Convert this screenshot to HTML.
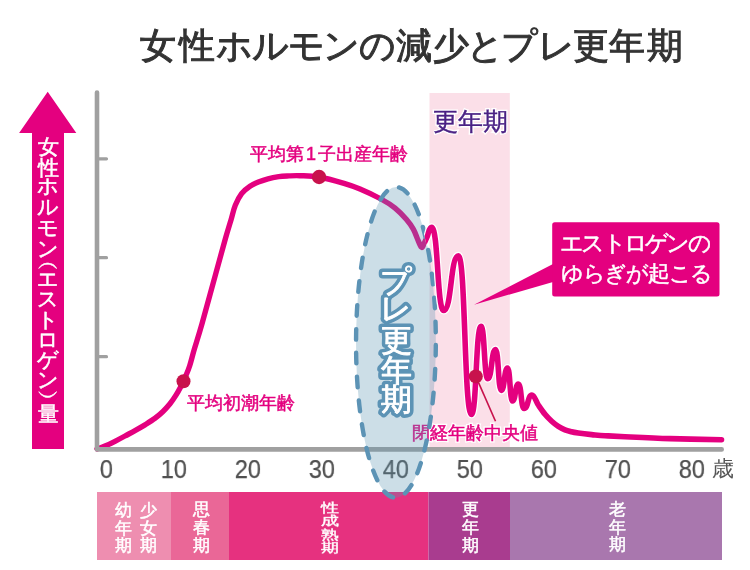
<!DOCTYPE html>
<html><head><meta charset="utf-8">
<style>
html,body{margin:0;padding:0;background:#fff;}
body{width:750px;height:570px;position:relative;overflow:hidden;font-family:"Liberation Sans",sans-serif;}
svg{position:absolute;left:0;top:0;}
.t{position:absolute;white-space:nowrap;line-height:1;will-change:transform;}
.ch{position:absolute;text-align:center;white-space:nowrap;line-height:1;will-change:transform;}
.ttl{top:27.5px;font-size:36px;color:#333;-webkit-text-stroke:1px #333;}
.xl{top:456.5px;font-size:25.5px;color:#505050;-webkit-text-stroke:0.25px #505050;transform:scaleX(0.93);transform-origin:100% 50%;text-align:right;width:60px;}
.lab{font-size:18px;color:#e4007f;-webkit-text-stroke:0.5px #e4007f;}
</style></head><body>
<svg width="750" height="570" viewBox="0 0 750 570">
  <rect x="429.5" y="93" width="80.3" height="356" fill="#fbdfe8"/>
  <rect x="97" y="492" width="74" height="68" fill="#ee8eb0"/>
  <rect x="171" y="492" width="58" height="68" fill="#ea6797"/>
  <rect x="229" y="492" width="199.5" height="68" fill="#e6317f"/>
  <rect x="428.5" y="492" width="81.5" height="68" fill="#a93c8f"/>
  <rect x="510" y="492" width="212" height="68" fill="#a977ae"/>
  <path d="M97.0,448.9 C98.3,448.4 102.0,447.4 105.0,446.1 C108.0,444.8 111.7,443.0 115.0,441.3 C118.3,439.6 121.7,437.8 125.0,436.0 C128.3,434.2 131.7,432.5 135.0,430.6 C138.3,428.8 141.7,426.9 145.0,424.9 C148.3,422.8 152.0,420.5 155.0,418.3 C158.0,416.1 160.5,413.9 163.0,411.5 C165.5,409.1 167.8,406.5 170.0,403.8 C172.2,401.1 174.2,398.1 176.0,395.2 C177.8,392.3 179.4,389.3 181.0,386.2 C182.6,383.1 184.1,379.9 185.5,376.5 C186.9,373.1 188.2,370.4 189.7,365.7 C191.2,361.0 192.5,355.3 194.6,348.3 C196.7,341.3 198.5,336.0 202.0,323.7 C205.5,311.4 211.6,288.7 215.5,274.6 C219.4,260.5 222.7,248.1 225.3,239.0 C227.9,229.9 229.3,225.6 231.0,220.0 C232.7,214.4 233.5,209.7 235.3,205.3 C237.1,200.9 239.2,196.9 241.6,193.7 C244.0,190.5 247.2,188.2 250.0,186.3 C252.8,184.4 255.4,183.2 258.4,182.0 C261.4,180.8 264.6,179.7 268.0,178.8 C271.4,177.9 275.2,177.2 278.7,176.7 C282.2,176.2 285.4,176.1 289.0,175.9 C292.6,175.7 295.0,175.5 300.0,175.7 C305.0,175.9 311.7,175.7 319.0,177.0 C326.3,178.3 337.2,181.4 344.0,183.4 C350.8,185.4 353.8,186.4 360.0,189.0 C366.2,191.6 375.1,195.8 381.0,199.0 C386.9,202.2 390.9,204.7 395.1,208.1 C399.3,211.5 403.3,215.8 406.3,219.3 C409.3,222.8 411.4,225.8 413.3,229.1 C415.2,232.4 416.3,236.2 417.5,239.0 C418.7,241.8 419.6,244.2 420.4,245.6 C421.2,247.0 421.6,247.8 422.3,247.3 C423.0,246.8 423.8,244.4 424.6,242.5 C425.5,240.6 426.7,237.8 427.4,236.1 C428.1,234.4 428.7,233.1 429.0,232.5" fill="none" stroke="#e4007f" stroke-width="5.4" stroke-linecap="round"/>
  <g stroke="#a0a0a0" stroke-linecap="round" fill="none">
    <path d="M97,92.6 V449.4 H721.7" stroke-width="4.6" stroke-linejoin="round"/>
    <path d="M97,158.8 H106.5 M97,257.7 H106.5 M97,356.7 H106.5" stroke-width="3.2"/>
  </g>
  <circle cx="319.1" cy="177" r="7.2" fill="#c8124c"/>
  <circle cx="183.5" cy="381.2" r="7" fill="#c8124c"/>
  <path d="M47.7,91.7 L76.3,133 H64 V449 H32 V133 H19.1 Z" fill="#e4007f"/>
</svg>
<div class="t ttl" style="left:140.35px">女</div>
<div class="t ttl" style="left:178.6px">性</div>
<div class="t ttl" style="left:215.7px">ホ</div>
<div class="t ttl" style="left:251.9px">ル</div>
<div class="t ttl" style="left:288.0px">モ</div>
<div class="t ttl" style="left:323.1px">ン</div>
<div class="t ttl" style="left:359.2px">の</div>
<div class="t ttl" style="left:396.1px">減</div>
<div class="t ttl" style="left:433.1px">少</div>
<div class="t ttl" style="left:466.5px">と</div>
<div class="t ttl" style="left:500.85px">プ</div>
<div class="t ttl" style="left:538.35px">レ</div>
<div class="t ttl" style="left:573.3px">更</div>
<div class="t ttl" style="left:609.3px">年</div>
<div class="t ttl" style="left:647.0px">期</div>
<div class="ch" style="left:33.00px;top:137.40px;width:30px;font-size:20.5px;color:#fff;-webkit-text-stroke:0.5px #fff;">女</div>
<div class="ch" style="left:33.00px;top:157.65px;width:30px;font-size:20.5px;color:#fff;-webkit-text-stroke:0.5px #fff;">性</div>
<div class="ch" style="left:33.00px;top:176.40px;width:30px;font-size:20.5px;color:#fff;-webkit-text-stroke:0.5px #fff;">ホ</div>
<div class="ch" style="left:33.00px;top:197.15px;width:30px;font-size:20.5px;color:#fff;-webkit-text-stroke:0.5px #fff;">ル</div>
<div class="ch" style="left:33.00px;top:218.40px;width:30px;font-size:20.5px;color:#fff;-webkit-text-stroke:0.5px #fff;">モ</div>
<div class="ch" style="left:33.00px;top:238.65px;width:30px;font-size:20.5px;color:#fff;-webkit-text-stroke:0.5px #fff;">ン</div>
<div class="ch" style="left:33.00px;top:251.70px;width:30px;font-size:20.5px;color:#fff;-webkit-text-stroke:0.5px #fff;">︵</div>
<div class="ch" style="left:33.00px;top:268.85px;width:30px;font-size:20.5px;color:#fff;-webkit-text-stroke:0.5px #fff;">エ</div>
<div class="ch" style="left:33.00px;top:289.10px;width:30px;font-size:20.5px;color:#fff;-webkit-text-stroke:0.5px #fff;">ス</div>
<div class="ch" style="left:33.00px;top:309.65px;width:30px;font-size:20.5px;color:#fff;-webkit-text-stroke:0.5px #fff;">ト</div>
<div class="ch" style="left:33.00px;top:329.60px;width:30px;font-size:20.5px;color:#fff;-webkit-text-stroke:0.5px #fff;">ロ</div>
<div class="ch" style="left:33.00px;top:350.35px;width:30px;font-size:20.5px;color:#fff;-webkit-text-stroke:0.5px #fff;">ゲ</div>
<div class="ch" style="left:33.00px;top:369.80px;width:30px;font-size:20.5px;color:#fff;-webkit-text-stroke:0.5px #fff;">ン</div>
<div class="ch" style="left:33.00px;top:387.05px;width:30px;font-size:20.5px;color:#fff;-webkit-text-stroke:0.5px #fff;">︶</div>
<div class="ch" style="left:33.00px;top:404.30px;width:30px;font-size:20.5px;color:#fff;-webkit-text-stroke:0.5px #fff;">量</div>
<div class="t xl" style="left:52.6px">0</div>
<div class="t xl" style="left:126.6px">10</div>
<div class="t xl" style="left:200.6px">20</div>
<div class="t xl" style="left:274.6px">30</div>
<div class="t xl" style="left:348.6px">40</div>
<div class="t xl" style="left:422.6px">50</div>
<div class="t xl" style="left:496.6px">60</div>
<div class="t xl" style="left:570.6px">70</div>
<div class="t xl" style="left:644.6px">80</div>
<div class="t" style="left:711.5px;top:458.5px;font-size:21.5px;color:#555">歳</div>
<div class="t lab" style="left:249.5px;top:145.2px">平均第<span style="display:inline-block;width:14px;text-align:center">1</span>子出産年齢</div>
<div class="t lab" style="left:186.5px;top:394px;font-size:18.4px">平均初潮年齢</div>
<div class="t lab" style="left:411.5px;top:423.5px;font-size:18.4px;-webkit-text-stroke:3px #fff">閉経年齢中央値</div>
<div class="t lab" style="left:411.5px;top:423.5px;font-size:18.4px">閉経年齢中央値</div>
<div class="t" style="left:432.5px;top:108.5px;font-size:25px;color:#fff;-webkit-text-stroke:3px #fff">更年期</div>
<div class="t" style="left:432.5px;top:108.5px;font-size:25px;color:#4a2184;-webkit-text-stroke:0.4px #4a2184">更年期</div>
<div class="ch" style="left:108.30px;top:501.60px;width:30px;font-size:17px;color:#fff;-webkit-text-stroke:0.5px #fff;">幼</div>
<div class="ch" style="left:108.30px;top:519.50px;width:30px;font-size:17px;color:#fff;-webkit-text-stroke:0.5px #fff;">年</div>
<div class="ch" style="left:108.30px;top:537.40px;width:30px;font-size:17px;color:#fff;-webkit-text-stroke:0.5px #fff;">期</div>
<div class="ch" style="left:133.30px;top:501.60px;width:30px;font-size:17px;color:#fff;-webkit-text-stroke:0.5px #fff;">少</div>
<div class="ch" style="left:133.30px;top:519.50px;width:30px;font-size:17px;color:#fff;-webkit-text-stroke:0.5px #fff;">女</div>
<div class="ch" style="left:133.30px;top:537.40px;width:30px;font-size:17px;color:#fff;-webkit-text-stroke:0.5px #fff;">期</div>
<div class="ch" style="left:186.20px;top:501.00px;width:30px;font-size:17px;color:#fff;-webkit-text-stroke:0.5px #fff;">思</div>
<div class="ch" style="left:186.20px;top:518.90px;width:30px;font-size:17px;color:#fff;-webkit-text-stroke:0.5px #fff;">春</div>
<div class="ch" style="left:186.20px;top:536.80px;width:30px;font-size:17px;color:#fff;-webkit-text-stroke:0.5px #fff;">期</div>
<div class="ch" style="left:314.80px;top:501.80px;width:30px;font-size:17.5px;color:#fff;-webkit-text-stroke:0.5px #fff;transform:scaleY(0.72);transform-origin:50% 0;">性</div>
<div class="ch" style="left:314.80px;top:515.20px;width:30px;font-size:17.5px;color:#fff;-webkit-text-stroke:0.5px #fff;transform:scaleY(0.72);transform-origin:50% 0;">成</div>
<div class="ch" style="left:314.80px;top:528.60px;width:30px;font-size:17.5px;color:#fff;-webkit-text-stroke:0.5px #fff;transform:scaleY(0.72);transform-origin:50% 0;">熟</div>
<div class="ch" style="left:314.80px;top:542.00px;width:30px;font-size:17.5px;color:#fff;-webkit-text-stroke:0.5px #fff;transform:scaleY(0.72);transform-origin:50% 0;">期</div>
<div class="ch" style="left:455.00px;top:501.40px;width:30px;font-size:17px;color:#fff;-webkit-text-stroke:0.5px #fff;">更</div>
<div class="ch" style="left:455.00px;top:519.10px;width:30px;font-size:17px;color:#fff;-webkit-text-stroke:0.5px #fff;">年</div>
<div class="ch" style="left:455.00px;top:536.80px;width:30px;font-size:17px;color:#fff;-webkit-text-stroke:0.5px #fff;">期</div>
<div class="ch" style="left:601.60px;top:500.80px;width:30px;font-size:17px;color:#fff;-webkit-text-stroke:0.5px #fff;">老</div>
<div class="ch" style="left:601.60px;top:518.60px;width:30px;font-size:17px;color:#fff;-webkit-text-stroke:0.5px #fff;">年</div>
<div class="ch" style="left:601.60px;top:536.40px;width:30px;font-size:17px;color:#fff;-webkit-text-stroke:0.5px #fff;">期</div>
<svg width="750" height="570" viewBox="0 0 750 570">
  <ellipse cx="395.94" cy="342.39" rx="39.89" ry="155.37" transform="rotate(0.11 395.94 342.39)" fill="rgba(90,150,178,0.31)" stroke="#5c93b5" stroke-width="4.4" stroke-dasharray="10.6 13.27" stroke-dashoffset="-2.585" stroke-linecap="round"/>
</svg>
<svg width="750" height="570" viewBox="0 0 750 570">
  <g font-family="Liberation Sans" font-size="30.5" text-anchor="middle" fill="#5c93b5" stroke="#5c93b5" stroke-width="8" stroke-linejoin="round">
  <text x="396" y="292.0">プ</text><text x="396" y="319.4">レ</text><text x="396" y="351.2">更</text><text x="396" y="380.8">年</text><text x="396" y="410.4">期</text>
  </g>
  <g font-family="Liberation Sans" font-size="30.5" text-anchor="middle" fill="#fff" stroke="#fff" stroke-width="0.9" stroke-linejoin="round">
  <text x="396" y="292.0">プ</text><text x="396" y="319.4">レ</text><text x="396" y="351.2">更</text><text x="396" y="380.8">年</text><text x="396" y="410.4">期</text>
  </g>
</svg>
<svg width="750" height="570" viewBox="0 0 750 570">
  <defs><clipPath id="cp"><path clip-rule="evenodd" d="M0,0 H750 V570 H0 Z M395.94,188.39 A39.2,154 0 0 1 395.94,496.39 A39.2,154 0 0 1 395.94,188.39 Z" transform="rotate(0.11 395.94 342.39)"/></clipPath></defs>
  <g clip-path="url(#cp)">
  <path d="M424.6,242.5 L427.4,236.1 C428.6,233.4 429,227.3 431.6,227.3 C438.3,227.3 437.0,310.5 443.7,310.5 C451.8,310.5 450.3,255.8 458.4,255.8 C465.5,255.8 464.2,414.5 471.4,414.5 C476.7,414.5 475.7,326.4 481.0,326.4 C484.7,326.4 484.1,378.8 487.8,378.8 C492.0,378.8 491.3,349.6 495.5,349.6 C498.7,349.6 498.1,390.4 501.3,390.4 C504.7,390.4 504.1,368.0 507.5,368.0 C510.2,368.0 509.8,401.0 512.5,401.0 C515.7,401.0 515.1,384.0 518.3,384.0 C521.5,384.0 520.9,408.5 524.1,408.5 C528.4,408.5 527.6,395.0 531.9,395.0 C534.5,395 536.1,401.9 538.3,405 C540.5,408.2 542.8,411.6 545.0,414.3 C547.2,417.0 549.5,419.2 551.7,421.2 C553.9,423.2 556.1,424.9 558.3,426.3 C560.5,427.7 562.8,428.9 565.0,429.8 C567.2,430.7 569.3,431.2 571.5,431.8 C573.7,432.4 574.9,432.6 578.3,433.1 C581.7,433.6 587.2,434.2 591.7,434.6 C596.2,435.0 599.5,435.4 605.0,435.7 C610.5,436.0 614.2,436.2 625.0,436.7 C635.8,437.2 653.9,438.1 670.0,438.6 C686.1,439.1 712.9,439.6 721.5,439.8" fill="none" stroke="#fff" stroke-width="8" stroke-linecap="round" stroke-linejoin="round"/>
  <path d="M424.6,242.5 L427.4,236.1 C428.6,233.4 429,227.3 431.6,227.3 C438.3,227.3 437.0,310.5 443.7,310.5 C451.8,310.5 450.3,255.8 458.4,255.8 C465.5,255.8 464.2,414.5 471.4,414.5 C476.7,414.5 475.7,326.4 481.0,326.4 C484.7,326.4 484.1,378.8 487.8,378.8 C492.0,378.8 491.3,349.6 495.5,349.6 C498.7,349.6 498.1,390.4 501.3,390.4 C504.7,390.4 504.1,368.0 507.5,368.0 C510.2,368.0 509.8,401.0 512.5,401.0 C515.7,401.0 515.1,384.0 518.3,384.0 C521.5,384.0 520.9,408.5 524.1,408.5 C528.4,408.5 527.6,395.0 531.9,395.0 C534.5,395 536.1,401.9 538.3,405 C540.5,408.2 542.8,411.6 545.0,414.3 C547.2,417.0 549.5,419.2 551.7,421.2 C553.9,423.2 556.1,424.9 558.3,426.3 C560.5,427.7 562.8,428.9 565.0,429.8 C567.2,430.7 569.3,431.2 571.5,431.8 C573.7,432.4 574.9,432.6 578.3,433.1 C581.7,433.6 587.2,434.2 591.7,434.6 C596.2,435.0 599.5,435.4 605.0,435.7 C610.5,436.0 614.2,436.2 625.0,436.7 C635.8,437.2 653.9,438.1 670.0,438.6 C686.1,439.1 712.9,439.6 721.5,439.8" fill="none" stroke="#e4007f" stroke-width="5.6" stroke-linecap="round" stroke-linejoin="round"/>
  </g>
  <line x1="475.8" y1="376.4" x2="495.5" y2="421.2" stroke="#c8124c" stroke-width="1.6"/>
  <circle cx="475.8" cy="376.4" r="7" fill="#c8124c"/>
  <path d="M474,304.7 L553,264 V282 Z" fill="#e4007f"/>
  <rect x="552.2" y="222.2" width="167.3" height="74.2" rx="2.5" fill="#e4007f"/>
</svg>
<div class="t" style="left:559.5px;top:231.5px;font-size:23px;letter-spacing:-2.75px;color:#fff;-webkit-text-stroke:0.5px #fff">エストロゲンの</div>
<div class="t" style="left:560.5px;top:262.5px;font-size:22.4px;letter-spacing:-1.3px;color:#fff;-webkit-text-stroke:0.5px #fff">ゆらぎが起こる</div>
</body></html>
